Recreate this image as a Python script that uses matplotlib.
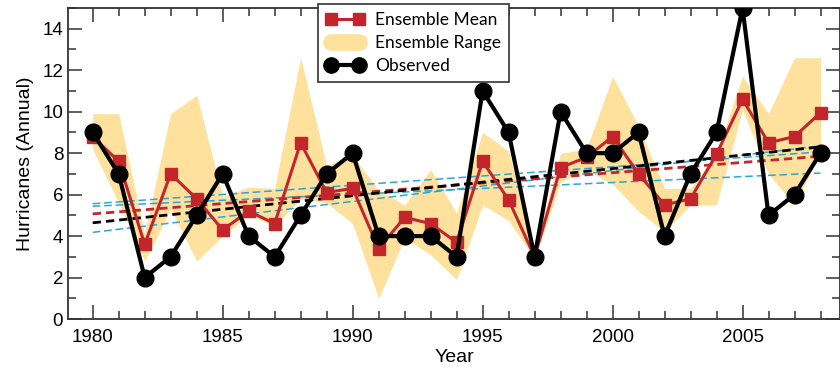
import matplotlib
matplotlib.use("Agg")
import matplotlib.pyplot as plt
from matplotlib.lines import Line2D
from matplotlib.ticker import MultipleLocator

plt.rcParams['font.family'] = ['Liberation Sans', 'DejaVu Sans']

years = list(range(1980, 2009))

observed = [9, 7, 2, 3, 5, 7, 4, 3, 5, 7, 8, 4, 4, 4, 3,
            11, 9, 3, 10, 8, 8, 9, 4, 7, 9, 15, 5, 6, 8]

ens_mean = [8.8, 7.6, 3.6, 7.0, 5.8, 4.3, 5.2, 4.6, 8.5, 6.1, 6.3, 3.4, 4.9, 4.6, 3.7,
            7.6, 5.75, 3.0, 7.3, 7.8, 8.8, 7.0, 5.5, 5.8, 7.95, 10.6, 8.5, 8.8, 9.95]

ens_upper = [9.9, 9.9, 4.1, 9.9, 10.8, 5.9, 6.35, 6.3, 12.6, 7.4, 7.9, 6.2, 5.5, 7.2, 5.1,
             9.0, 8.1, 3.3, 8.0, 8.2, 11.7, 9.3, 6.3, 6.3, 8.0, 11.7, 9.9, 12.6, 12.6]
ens_lower = [8.2, 5.6, 2.8, 5.3, 2.8, 4.0, 5.0, 4.5, 5.8, 5.6, 4.6, 1.0, 3.9, 3.1, 1.9,
             5.5, 4.75, 2.9, 6.6, 7.2, 6.5, 5.2, 4.2, 5.5, 5.5, 10.1, 7.0, 5.5, 8.05]

# linear trends, 1980 -> 2008
trend_years = [1980, 2008]
trend_obs = [4.64, 8.30]
trend_mean = [5.07, 7.85]
trend_members = [[5.56, 8.06], [5.44, 7.04], [4.18, 8.35]]

RED = '#c4242c'
YELLOW = '#fde19c'
CYAN = '#2aa8d4'

fig = plt.figure(figsize=(8.4, 3.7), dpi=100)
ax = fig.add_axes([68 / 840, 1 - 319 / 370, 772 / 840, 311 / 370])

ax.fill_between(years, ens_lower, ens_upper, color=YELLOW, lw=0, zorder=1)

for tr in trend_members:
    ax.plot(trend_years, tr, color=CYAN, lw=1.1, dashes=(5, 2.5), zorder=2)
ax.plot(trend_years, trend_mean, color=RED, lw=2.0, dashes=(3, 1.8), zorder=2)
ax.plot(trend_years, trend_obs, color='black', lw=2.0, dashes=(3, 1.8), zorder=2)

ax.plot(years, ens_mean, color=RED, lw=2.2, marker='s', ms=9, zorder=3)
ax.plot(years, observed, color='black', lw=3.0, marker='o', ms=12, zorder=4)

ax.set_xlim(1979.05, 2008.75)
ax.set_ylim(0, 15)
ax.xaxis.set_major_locator(MultipleLocator(5))
ax.xaxis.set_minor_locator(MultipleLocator(1))
ax.yaxis.set_major_locator(MultipleLocator(2))
ax.yaxis.set_minor_locator(MultipleLocator(1))
ax.set_yticks([0, 2, 4, 6, 8, 10, 12, 14])
ax.tick_params(which='both', direction='in', top=True, right=True,
               labelsize=13.5, width=1.1, color='#333333')
ax.tick_params(axis='x', which='major', pad=7)
ax.tick_params(which='major', length=10)
ax.tick_params(which='minor', length=5.5)
for sp in ax.spines.values():
    sp.set_linewidth(1.3)
    sp.set_color('#333333')

ax.set_xlabel('Year', fontsize=14, labelpad=2)
ax.set_ylabel('Hurricanes (Annual)', fontsize=14, labelpad=6)

handles = [
    Line2D([], [], color=RED, lw=2.2, marker='s', ms=9),
    Line2D([], [], color=YELLOW, lw=12, solid_capstyle='round'),
    Line2D([], [], color='black', lw=3.0, marker='o', ms=11),
]
leg = fig.legend(handles, ['Ensemble Mean', 'Ensemble Range', 'Observed'],
                 loc='upper left', bbox_to_anchor=(318 / 840, 1 - 4 / 370),
                 bbox_transform=fig.transFigure, numpoints=2, handlelength=2.2,
                 fancybox=False, framealpha=1, edgecolor='#333333',
                 borderaxespad=0, borderpad=0.45, labelspacing=0.4,
                 handletextpad=0.65, prop={'family': 'Lato', 'size': 12.5})
leg.get_frame().set_linewidth(1.2)
leg.set_zorder(10)

fig.savefig('out.png', dpi=100)
